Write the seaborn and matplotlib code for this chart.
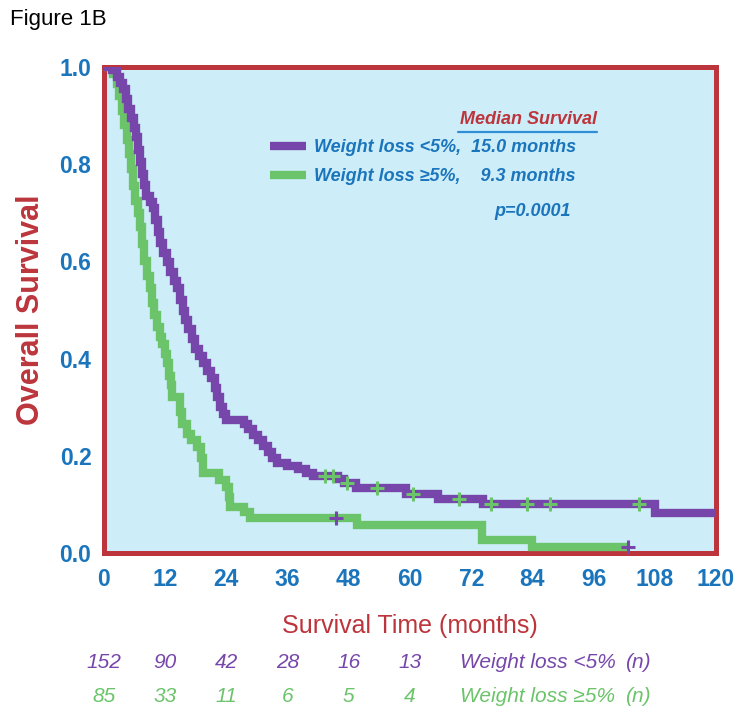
import numpy as np
import pandas as pd
import matplotlib
matplotlib.use("Agg")
import matplotlib.pyplot as plt
import seaborn as sns
from matplotlib.lines import Line2D
import matplotlib.transforms as mtransforms

# ---------------- data ----------------
time_lt5 = [0, 1.5, 2.5, 3.2, 3.8, 4.3, 4.8, 5.3, 5.8, 6.2, 6.6, 7.0, 7.4, 7.8, 8.3, 9.0,
            9.6, 10.0, 10.5, 11.0, 11.6, 12.3, 13.0, 13.7, 14.3, 14.9, 15.4, 15.9, 16.5,
            17.2, 17.8, 18.6, 19.4, 20.2, 21.0, 21.7, 22.2, 22.7, 23.3, 24.0, 27.4, 28.3,
            29.2, 30.2, 31.2, 32.2, 33.0, 34.0, 35.8, 38.0, 39.6, 41.0, 45.8, 47.0, 49.5,
            59.2, 65.5, 74.3, 108.0, 120.0]
surv_lt5 = [1.0, 0.993, 0.98, 0.967, 0.954, 0.934, 0.914, 0.895, 0.875, 0.855, 0.83, 0.805,
            0.78, 0.757, 0.735, 0.722, 0.71, 0.685, 0.66, 0.638, 0.618, 0.598, 0.578, 0.56,
            0.545, 0.52, 0.497, 0.48, 0.46, 0.44, 0.42, 0.405, 0.39, 0.375, 0.36, 0.34, 0.32,
            0.30, 0.285, 0.274, 0.265, 0.255, 0.243, 0.232, 0.22, 0.208, 0.195, 0.185, 0.178,
            0.172, 0.165, 0.158, 0.152, 0.145, 0.133, 0.121, 0.112, 0.100, 0.082, 0.082]

time_ge5 = [0, 1.8, 2.5, 3.0, 3.5, 4.0, 4.5, 4.9, 5.3, 5.7, 6.1, 6.6, 7.0, 7.4, 7.9, 8.4,
            9.0, 9.4, 9.9, 10.4, 10.9, 11.4, 11.9, 12.4, 12.8, 13.1, 13.4, 14.9, 15.2, 16.2,
            17.0, 18.2, 19.0, 19.5, 22.5, 24.0, 24.6, 24.8, 27.5, 28.6, 49.6, 74.2, 84.0,
            103.0]
surv_ge5 = [1.0, 0.985, 0.965, 0.94, 0.91, 0.88, 0.85, 0.82, 0.79, 0.755, 0.725, 0.70, 0.67,
            0.635, 0.60, 0.57, 0.545, 0.515, 0.49, 0.465, 0.445, 0.43, 0.41, 0.39, 0.365,
            0.345, 0.322, 0.29, 0.265, 0.245, 0.232, 0.218, 0.195, 0.165, 0.15, 0.135, 0.115,
            0.095, 0.085, 0.072, 0.058, 0.027, 0.012, 0.012]

censor_lt5 = [43.3, 44.9, 47.6, 53.5, 60.6, 69.7, 75.9, 82.9, 87.5, 104.9]
censor_ge5 = [45.5, 102.7]

group_labels = ["Weight loss <5%", "Weight loss \u22655%"]
median_months = [15.0, 9.3]
p_value = "p=0.0001"

risk_times = [0, 12, 24, 36, 48, 60]
risk_lt5 = [152, 90, 42, 28, 16, 13]
risk_ge5 = [85, 33, 11, 6, 5, 4]

x_ticks = list(range(0, 121, 12))
y_ticks = [0.0, 0.2, 0.4, 0.6, 0.8, 1.0]

# ---------------- style ----------------
PURPLE = "#7646AA"
GREEN = "#6BC46A"
RED = "#BC353C"
BLUE = "#1B75BC"
BG = "#CDEEF9"
FAM = ["Liberation Sans", "DejaVu Sans"]

sns.set_theme(style="white")
plt.rcParams['font.family'] = FAM

fig = plt.figure(figsize=(7.42, 7.16), dpi=100)
ax = fig.add_axes([104/742, 1-553/716, 612/742, 486/716])
ax.set_facecolor(BG)

df_lt5 = pd.DataFrame({"t": time_lt5, "s": surv_lt5})
df_ge5 = pd.DataFrame({"t": time_ge5, "s": surv_ge5})

sns.lineplot(data=df_ge5, x="t", y="s", ax=ax, color=GREEN, linewidth=6.0,
             drawstyle="steps-post", estimator=None, sort=False,
             solid_joinstyle="miter", solid_capstyle="butt", zorder=3)
sns.lineplot(data=df_lt5, x="t", y="s", ax=ax, color=PURPLE, linewidth=6.0,
             drawstyle="steps-post", estimator=None, sort=False,
             solid_joinstyle="miter", solid_capstyle="butt", zorder=4)


def step_at(times, survs, c):
    idx = np.searchsorted(np.asarray(times), np.asarray(c), side="right") - 1
    return np.asarray(survs)[idx]


cens_lt5 = pd.DataFrame({"t": censor_lt5, "s": step_at(time_lt5, surv_lt5, censor_lt5)})
cens_ge5 = pd.DataFrame({"t": censor_ge5, "s": step_at(time_ge5, surv_ge5, censor_ge5)})
sns.scatterplot(data=cens_lt5, x="t", y="s", ax=ax, marker="+", s=110, color=GREEN,
                linewidth=2.2, zorder=6)
sns.scatterplot(data=cens_ge5, x="t", y="s", ax=ax, marker="+", s=110, color=PURPLE,
                linewidth=2.2, zorder=6)

ax.set_xlim(0, 120)
ax.set_ylim(0, 1.0)
ax.set_xticks(x_ticks)
ax.set_yticks(y_ticks)
ax.set_xticklabels([str(v) for v in x_ticks])
ax.set_yticklabels([f"{v:.1f}" for v in y_ticks])
for sp in ax.spines.values():
    sp.set_color(RED)
    sp.set_linewidth(3.6)
    sp.set_visible(True)
ax.tick_params(axis="both", direction="out", length=6, width=3, color=RED,
               labelcolor=BLUE, labelsize=16.5, pad=3)
ax.tick_params(axis="x", pad=5)
for lab in ax.get_xticklabels() + ax.get_yticklabels():
    lab.set_fontweight("bold")

ax.set_xlabel("Survival Time (months)", color=RED, fontsize=18, labelpad=16)
ax.set_ylabel("Overall Survival", color=RED, fontsize=22, fontweight="bold", labelpad=10)

# legend
handles = [Line2D([], [], color=PURPLE, linewidth=6, solid_capstyle="butt"),
           Line2D([], [], color=GREEN, linewidth=6, solid_capstyle="butt")]
labels = [f"{group_labels[0]},  {median_months[0]:.1f} months",
          f"{group_labels[1]},    {median_months[1]:.1f} months"]
leg = ax.legend(handles, labels, loc="upper left", bbox_to_anchor=(0.245, 0.885),
                frameon=False, handlelength=2.0, handletextpad=0.45, labelspacing=0.65,
                prop={"family": FAM, "weight": "bold", "style": "italic", "size": 13})
for t in leg.get_texts():
    t.set_color(BLUE)

ax.text(0.694, 0.893, "Median Survival", transform=ax.transAxes, ha="center", va="center",
        color=RED, fontsize=13, fontweight="bold", style="italic")
ax.plot([0.579, 0.806], [0.866, 0.866], transform=ax.transAxes, color="#2E8FD8",
        linewidth=1.6, clip_on=False)
ax.text(0.701, 0.703, p_value, transform=ax.transAxes, ha="center", va="center",
        color=BLUE, fontsize=13, fontweight="bold", style="italic")

# at-risk table
trans = mtransforms.blended_transform_factory(ax.transData, fig.transFigure)
RS = 15
for tx, a, b in zip(risk_times, risk_lt5, risk_ge5):
    ax.text(tx, 1-662/716, str(a), transform=trans, ha="center", va="center",
            color=PURPLE, fontsize=RS, style="italic")
    ax.text(tx, 1-697/716, str(b), transform=trans, ha="center", va="center",
            color=GREEN, fontsize=RS, style="italic")
fig.text(460/742, 1-662/716, group_labels[0], ha="left", va="center", color=PURPLE,
         fontsize=RS, style="italic")
fig.text(460/742, 1-697/716, group_labels[1], ha="left", va="center", color=GREEN,
         fontsize=RS, style="italic")
fig.text(638/742, 1-662/716, "(n)", ha="center", va="center", color=PURPLE,
         fontsize=RS, style="italic")
fig.text(638/742, 1-697/716, "(n)", ha="center", va="center", color=GREEN,
         fontsize=RS, style="italic")

fig.text(10/742, 1-19/716, "Figure 1B", ha="left", va="center", color="black",
         fontsize=16)

fig.savefig("out.png", dpi=100, facecolor="white")
